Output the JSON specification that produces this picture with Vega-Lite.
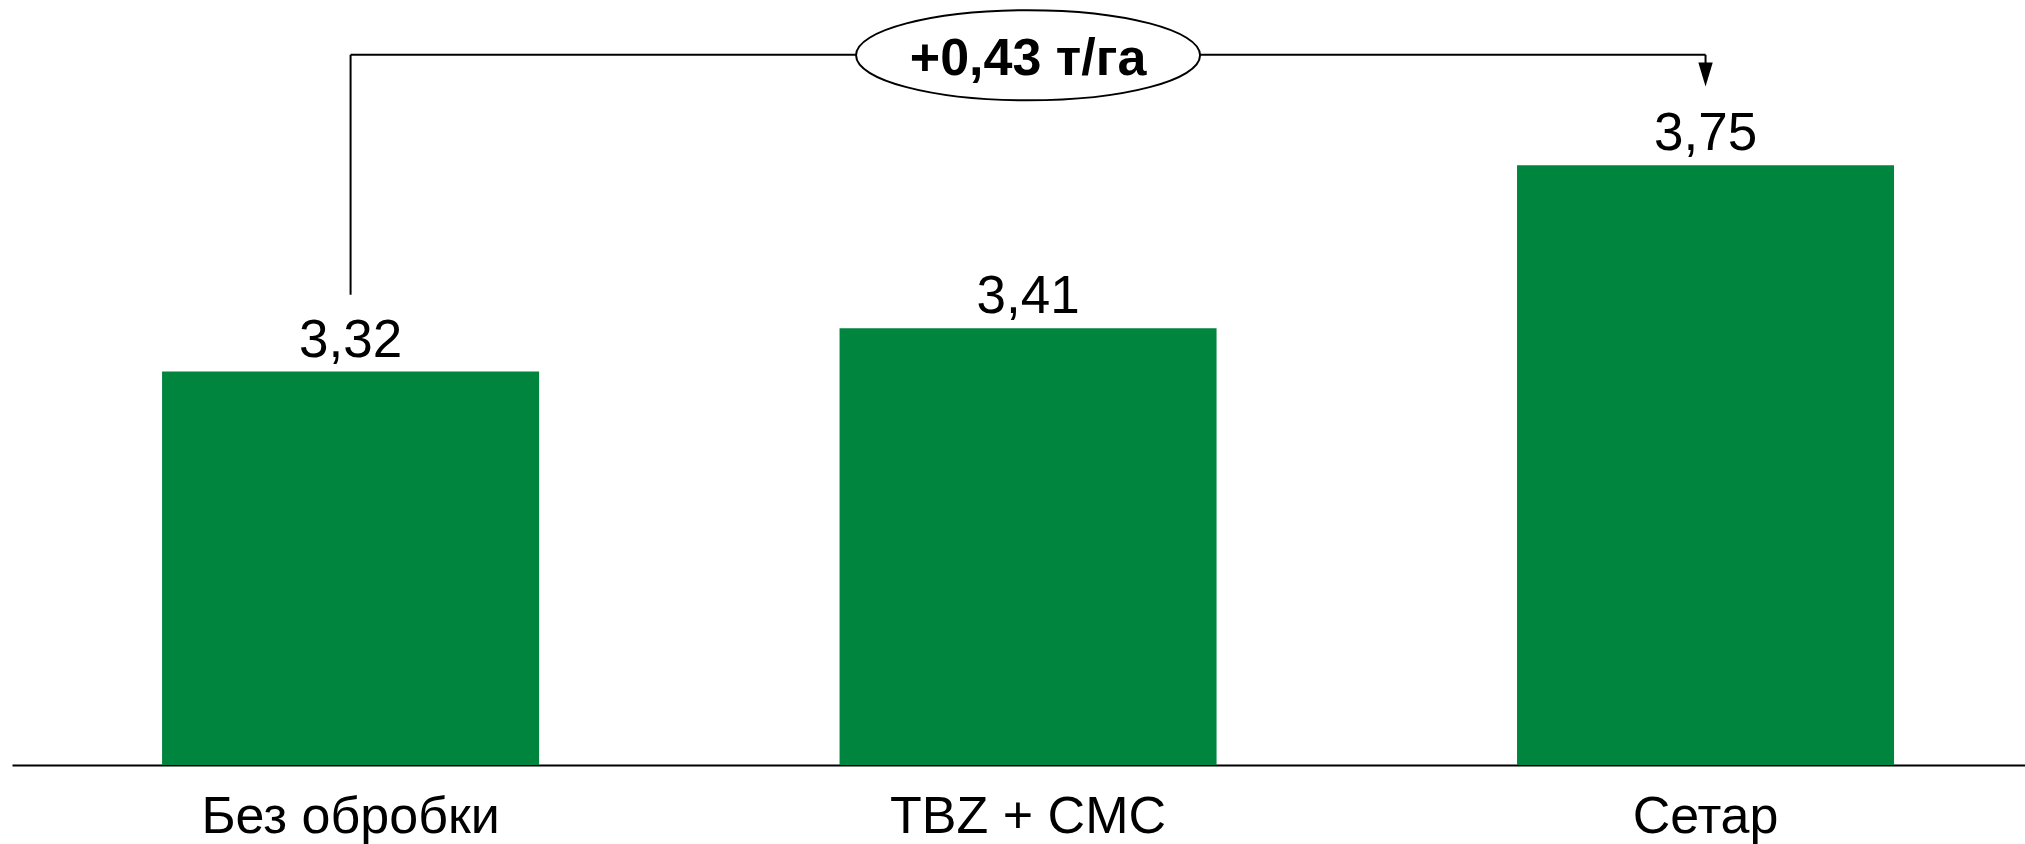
{
  "$schema": "https://vega.github.io/schema/vega-lite/v6.json",
  "width": 2013,
  "height": 763,
  "autosize": "none",
  "padding": {"left": 12, "top": 2, "right": 0, "bottom": 79},
  "background": "white",
  "config": {"view": {"stroke": null}, "font": "Liberation Sans"},
  "datasets": {
    "bars": [
      {"cat": "Без обробки", "value": 3.32, "label": "3,32"},
      {"cat": "TBZ + CMC", "value": 3.41, "label": "3,41"},
      {"cat": "Сетар", "value": 3.75, "label": "3,75"}
    ],
    "vline": [
      {"cat": "Без обробки", "y": 3.48, "y2": 3.98},
      {"cat": "Сетар", "y": 3.98, "y2": 3.955}
    ],
    "hline": [{"cat": "Без обробки", "cat2": "Сетар", "y": 3.98}],
    "arrow": [{"cat": "Сетар", "y": 3.9388}],
    "badge": [{"cat": "TBZ + CMC", "y": 3.979, "label": "+0,43 т/га"}]
  },
  "encoding": {
    "x": {
      "field": "cat",
      "type": "nominal",
      "sort": null,
      "scale": {
        "domain": ["Без обробки", "TBZ + CMC", "Сетар"],
        "paddingInner": 0.4435,
        "paddingOuter": 0.2074,
        "align": 0.534
      },
      "axis": {
        "title": null,
        "labelAngle": 0,
        "ticks": false,
        "domainColor": "black",
        "domainWidth": 2,
        "labelFontSize": 52,
        "labelColor": "black",
        "labelFont": "Liberation Sans",
        "labelBaseline": "alphabetic",
        "labelPadding": 67,
        "labelLimit": 1000,
        "labelOverlap": false,
        "grid": false
      }
    }
  },
  "layer": [
    {
      "data": {"name": "bars"},
      "mark": {"type": "bar", "color": "#00853f"},
      "encoding": {
        "y": {"field": "value", "type": "quantitative", "scale": {"domain": [2.5, 4.09], "zero": false, "nice": false}, "axis": null},
        "y2": {"datum": 2.5}
      }
    },
    {
      "data": {"name": "bars"},
      "mark": {"type": "text", "fontSize": 53, "align": "center", "baseline": "alphabetic", "dy": -15, "color": "black"},
      "encoding": {
        "y": {"field": "value", "type": "quantitative"},
        "text": {"field": "label"}
      }
    },
    {
      "data": {"name": "vline"},
      "mark": {"type": "rule", "color": "black", "strokeWidth": 2},
      "encoding": {
        "y": {"field": "y", "type": "quantitative"},
        "y2": {"field": "y2"}
      }
    },
    {
      "data": {"name": "hline"},
      "mark": {"type": "rule", "color": "black", "strokeWidth": 2},
      "encoding": {
        "x2": {"field": "cat2"},
        "y": {"field": "y", "type": "quantitative"}
      }
    },
    {
      "data": {"name": "arrow"},
      "mark": {"type": "point", "shape": "M -0.6 -1 L 0.6 -1 L 0 1 Z", "size": 576, "filled": true, "color": "black", "opacity": 1},
      "encoding": {
        "y": {"field": "y", "type": "quantitative"}
      }
    },
    {
      "data": {"name": "badge"},
      "mark": {
        "type": "point",
        "shape": "M -1 0 C -1 -0.1447 -0.5523 -0.262 0 -0.262 C 0.5523 -0.262 1 -0.1447 1 0 C 1 0.1447 0.5523 0.262 0 0.262 C -0.5523 0.262 -1 0.1447 -1 0 Z",
        "size": 118336,
        "filled": true,
        "fill": "white",
        "stroke": "black",
        "strokeWidth": 2,
        "opacity": 1
      },
      "encoding": {
        "y": {"field": "y", "type": "quantitative"}
      }
    },
    {
      "data": {"name": "badge"},
      "mark": {"type": "text", "fontSize": 52, "fontWeight": "bold", "align": "center", "baseline": "alphabetic", "dy": 20, "color": "black"},
      "encoding": {
        "y": {"field": "y", "type": "quantitative"},
        "text": {"field": "label"}
      }
    }
  ]
}
